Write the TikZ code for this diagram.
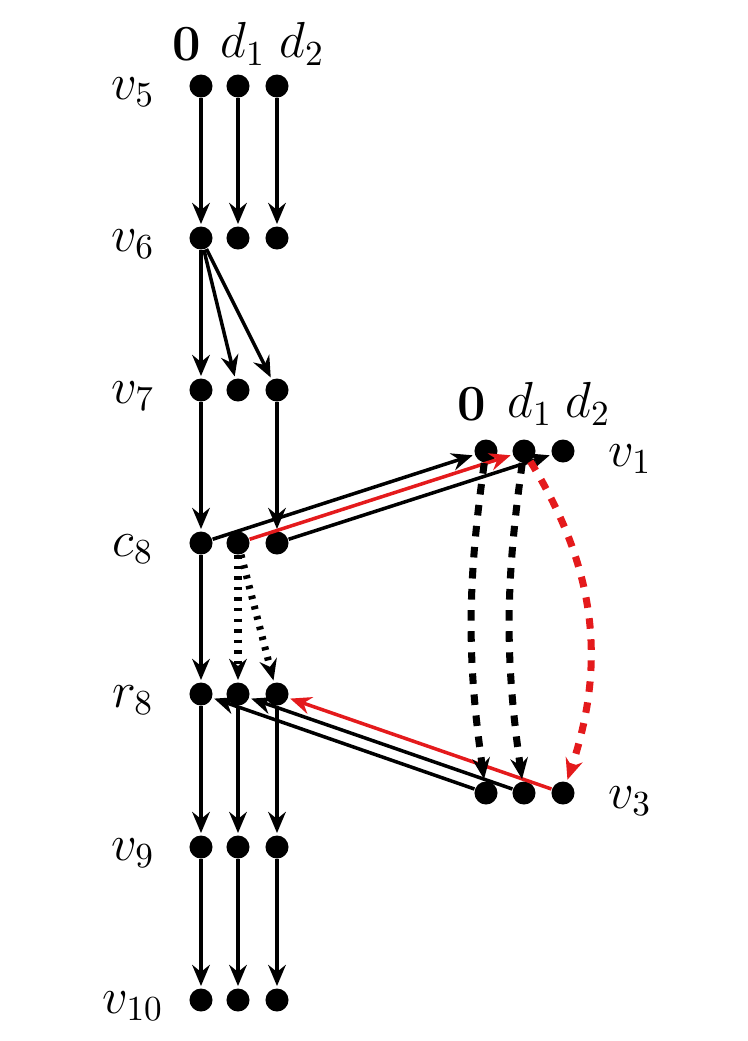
\documentclass[tikz,border=0pt]{standalone}
\usepackage{amsmath}
\usetikzlibrary{arrows.meta}
\definecolor{myred}{RGB}{228,26,28}
\begin{document}
\begin{tikzpicture}[x=0.01cm,y=-0.01cm,
    dot/.style={circle, fill=black, inner sep=0pt, minimum size=0.23cm},
    flow/.style={-{Stealth[length=6pt,width=5pt,inset=2pt]}, line width=1pt, shorten >=0.5pt},
    lbl/.style={font=\Large}]
    \useasboundingbox (0,0) rectangle (747,1041);

    % Define nodes
    \foreach \nm/\y/\lab in {5/86/v_5, 6/238/v_6, 7/390/v_7, c/543/c_8, r/694/r_8, 9/847/v_9, 10/1000/v_{10}} {
        \node[dot] (a\nm) at (201,\y) {};
        \node[dot] (b\nm) at (238,\y) {};
        \node[dot] (c\nm) at (277,\y) {};
        \node[lbl] (l\nm) at (133,\y+6) {$\lab$};
    }
    \foreach \nm/\y/\lab in {1/451/v_1, 3/793/v_3} {
        \node[dot] (a\nm) at (486,\y) {};
        \node[dot] (b\nm) at (524,\y) {};
        \node[dot] (c\nm) at (563,\y) {};
        \node[lbl] (l\nm) at (630,\y+8) {$\lab$};
    }
    \node[lbl] (z5) at (187,44) {$\mathbf{0}$};
    \node[lbl] (d15) at (243,44) {$d_1$};
    \node[lbl] (d25) at (302,44) {$d_2$};
    \node[lbl] (z1) at (472,404) {$\mathbf{0}$};
    \node[lbl] (d11) at (530,404) {$d_1$};
    \node[lbl] (d21) at (588,404) {$d_2$};

    % Connect the nodes
    \foreach \col in {a,b,c} {
        \draw[flow] (\col5) -- (\col6);
        \draw[flow] (\col r) -- (\col9);
        \draw[flow] (\col9) -- (\col10);
    }
    \draw[flow] (a6) -- (a7);
    \draw[flow] (a6) -- (b7);
    \draw[flow] (a6) -- (c7);
    \draw[flow] (a7) -- (ac);
    \draw[flow] (c7) -- (cc);
    \draw[flow] (ac) -- (ar);
    \draw[flow] (ac) -- (a1);
    \draw[flow, myred] (bc) -- (b1);
    \draw[flow] (cc) -- (c1);
    \draw[flow] (a3) -- (ar);
    \draw[flow] (b3) -- (br);
    \draw[flow, myred] (c3) -- (cr);
    \draw[flow, dotted, line width=2pt] (bc) -- (br);
    \draw[flow, dotted, line width=2pt] (bc) -- (cr);
    \draw[flow, dashed, line width=2pt] (a1) to[bend right=8] (a3);
    \draw[flow, dashed, line width=2pt] (b1) to[bend right=8] (b3);
    \draw[flow, dashed, line width=2pt, myred] (b1) to[bend left=25] (c3);

\end{tikzpicture}
\end{document}
